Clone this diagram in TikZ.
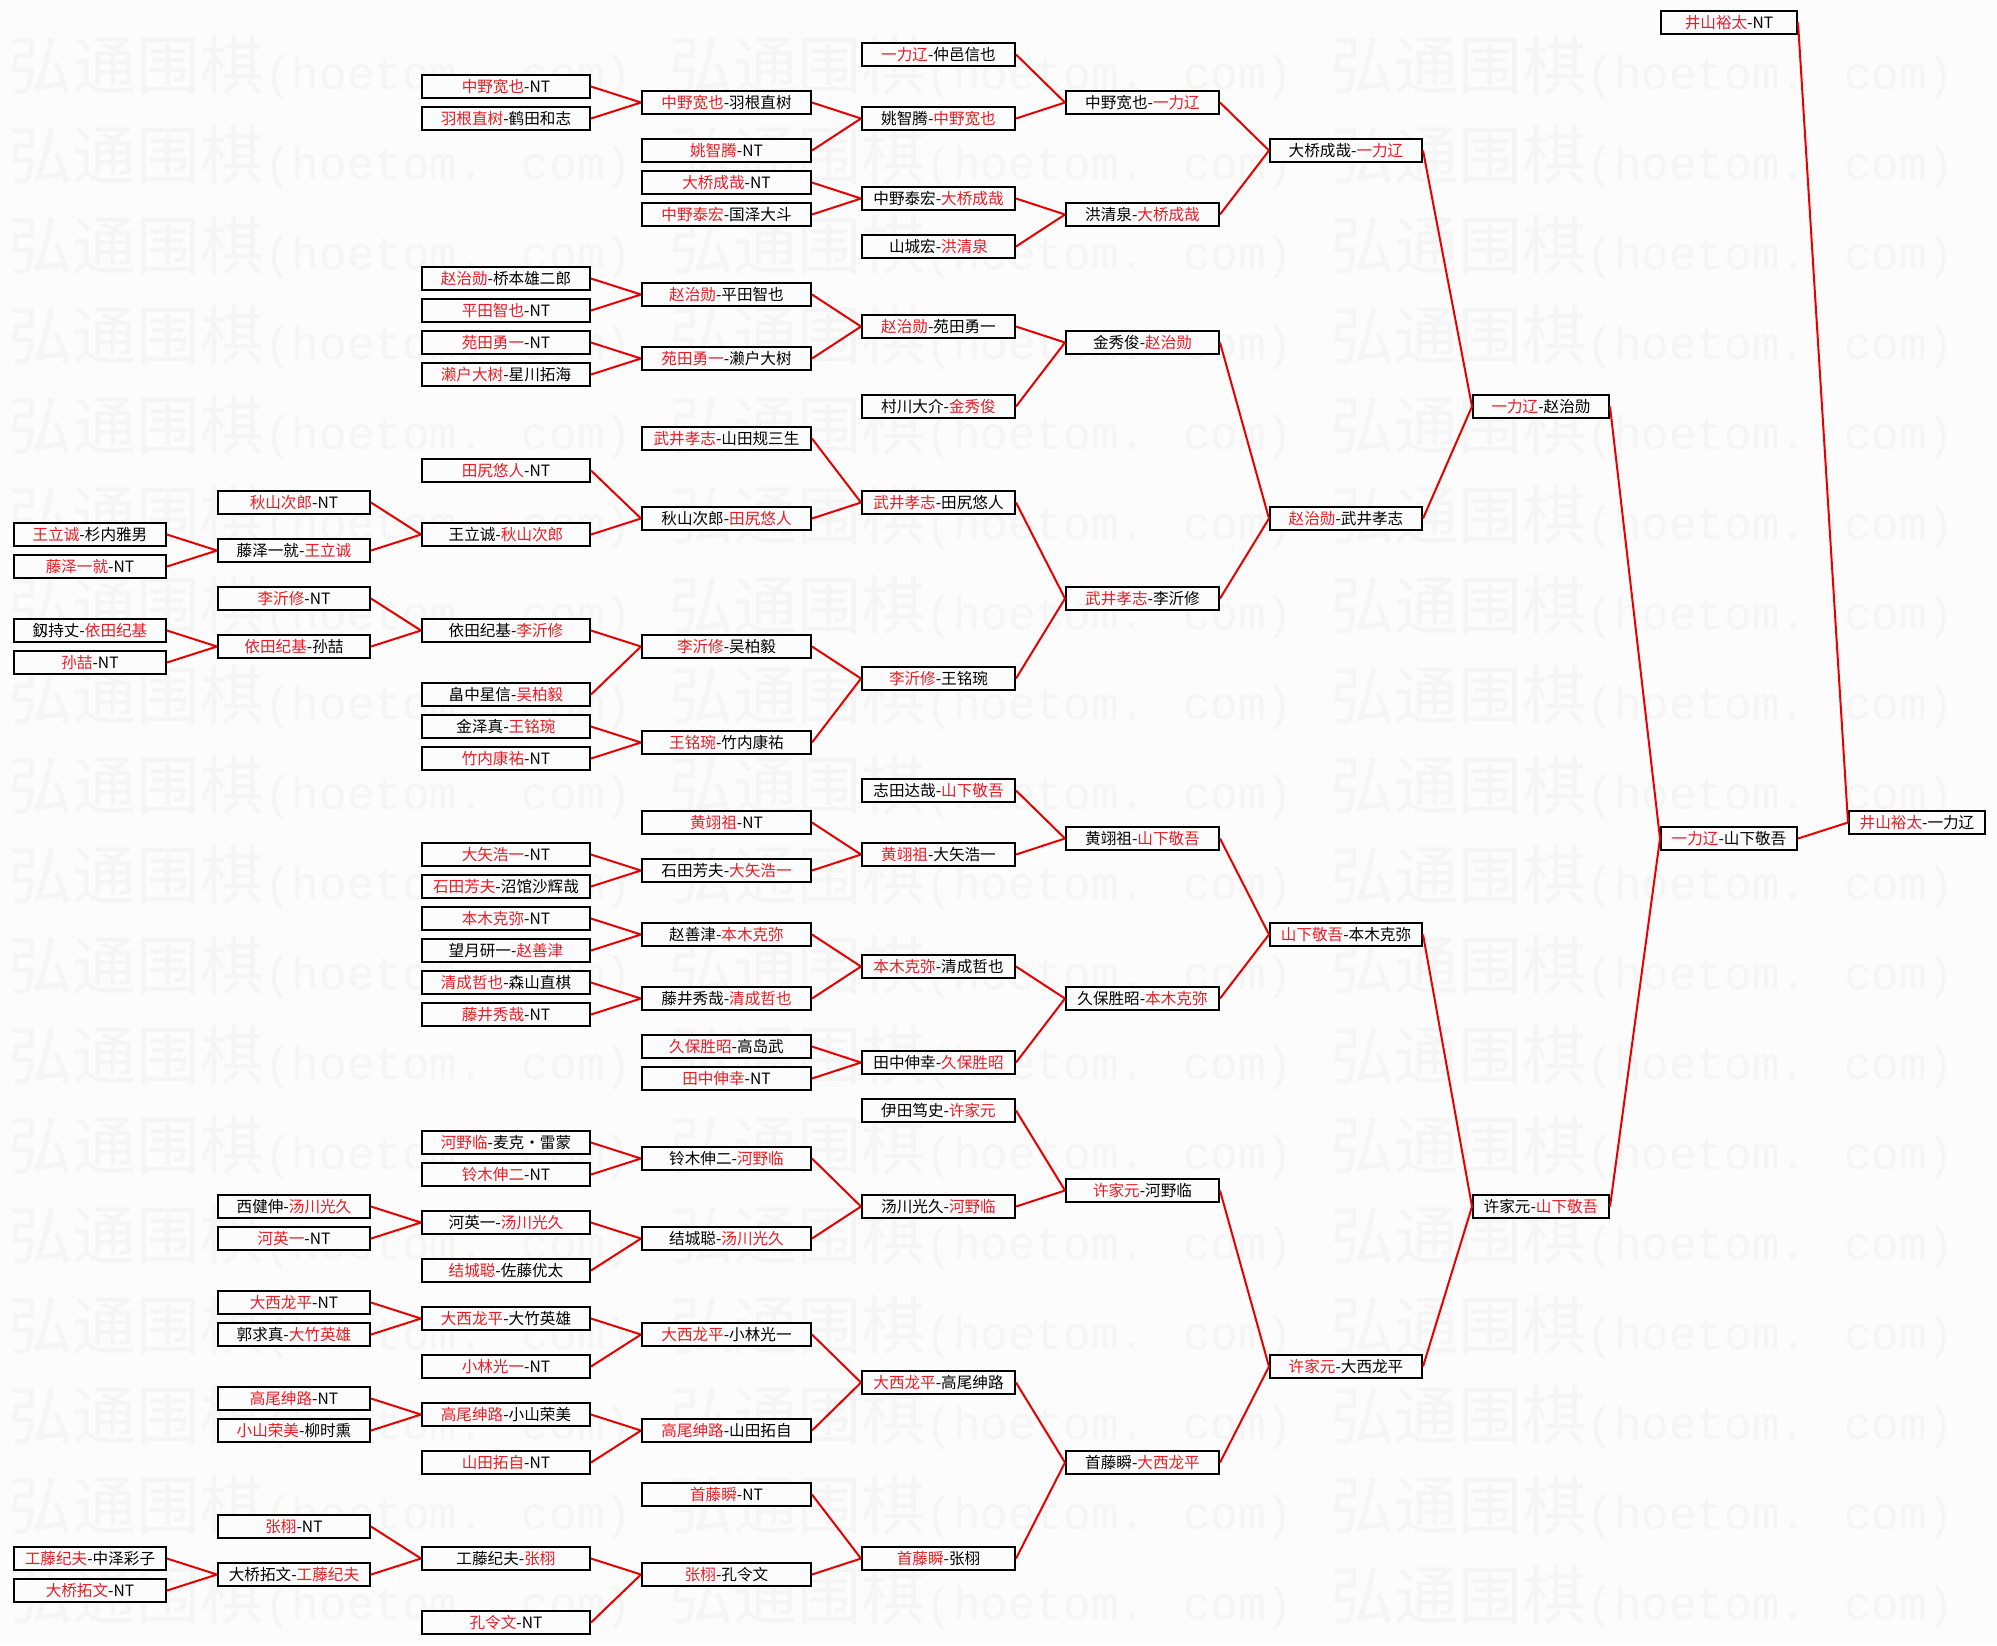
\documentclass[tikz,border=0pt]{standalone}
\usepackage{fontspec}
\setmainfont{Noto Sans CJK SC}
\newfontfamily\wmcjk{Noto Sans CJK SC}
\newfontfamily\wmmono{Liberation Mono}
\definecolor{wr}{RGB}{232,28,36}
\definecolor{lr}{RGB}{230,0,0}
\definecolor{wmc}{RGB}{245,245,245}
\definecolor{bgc}{RGB}{252,252,252}
\newcommand\R[1]{\textcolor{wr}{#1}}
\newcommand\nd[3]{%
 \ifcase#1\or\def\ndx{90}\def\ndw{76pt}\or\def\ndx{294}\def\ndw{76pt}\or\def\ndx{506}\def\ndw{84pt}\or\def\ndx{726.5}\def\ndw{84.5pt}\or\def\ndx{938.5}\def\ndw{76.5pt}\or\def\ndx{1142.5}\def\ndw{76.5pt}\or\def\ndx{1346}\def\ndw{76pt}\or\def\ndx{1541}\def\ndw{68pt}\or\def\ndx{1729}\def\ndw{68pt}\or\def\ndx{1917}\def\ndw{68pt}\fi
 \node[box,minimum width=\ndw] (n#1r#2) at (\ndx,{22.5+16*#2}) {#3};}
\newcommand\lk[3]{\draw[ln] (#2.east) -- (#1.west) (#3.east) -- (#1.west);}
\begin{document}
\begin{tikzpicture}[x=0.5pt,y=-0.5pt,
 box/.style={draw=black,line width=1pt,fill=bgc,inner sep=0pt,minimum height=11.5pt,font=\fontsize{7.8pt}{9pt}\selectfont,text=black},
 ln/.style={draw=lr,line width=1pt},
 wmk/.style={anchor=base west,inner sep=0pt,text=wmc}]
\path[use as bounding box,fill=bgc] (0,0) rectangle (1997,1645);
% watermark
\foreach \k in {0,...,17}{
  \foreach \j in {0,...,2}{
    \node[wmk] (wm\k x\j) at ({8+661*\j},{89+90*\k}) {\wmcjk\fontsize{32pt}{32pt}\selectfont 弘通围棋\wmmono\fontsize{23pt}{23pt}\selectfont (hoetom. com)};
  }
}
% column 1
\nd{1}{32}{\R{王立诚}-杉内雅男}
\nd{1}{34}{\R{藤泽一就}-NT}
\nd{1}{38}{釼持丈-\R{依田纪基}}
\nd{1}{40}{\R{孙喆}-NT}
\nd{1}{96}{\R{工藤纪夫}-中泽彩子}
\nd{1}{98}{\R{大桥拓文}-NT}
% column 2
\nd{2}{30}{\R{秋山次郎}-NT}
\nd{2}{33}{藤泽一就-\R{王立诚}}
\nd{2}{36}{\R{李沂修}-NT}
\nd{2}{39}{\R{依田纪基}-孙喆}
\nd{2}{74}{西健伸-\R{汤川光久}}
\nd{2}{76}{\R{河英一}-NT}
\nd{2}{80}{\R{大西龙平}-NT}
\nd{2}{82}{郭求真-\R{大竹英雄}}
\nd{2}{86}{\R{高尾绅路}-NT}
\nd{2}{88}{\R{小山荣美}-柳时熏}
\nd{2}{94}{\R{张栩}-NT}
\nd{2}{97}{大桥拓文-\R{工藤纪夫}}
% column 3
\nd{3}{4}{\R{中野宽也}-NT}
\nd{3}{6}{\R{羽根直树}-鹤田和志}
\nd{3}{16}{\R{赵治勋}-桥本雄二郎}
\nd{3}{18}{\R{平田智也}-NT}
\nd{3}{20}{\R{苑田勇一}-NT}
\nd{3}{22}{\R{濑户大树}-星川拓海}
\nd{3}{28}{\R{田尻悠人}-NT}
\nd{3}{32}{王立诚-\R{秋山次郎}}
\nd{3}{38}{依田纪基-\R{李沂修}}
\nd{3}{42}{畠中星信-\R{吴柏毅}}
\nd{3}{44}{金泽真-\R{王铭琬}}
\nd{3}{46}{\R{竹内康祐}-NT}
\nd{3}{52}{\R{大矢浩一}-NT}
\nd{3}{54}{\R{石田芳夫}-沼馆沙辉哉}
\nd{3}{56}{\R{本木克弥}-NT}
\nd{3}{58}{望月研一-\R{赵善津}}
\nd{3}{60}{\R{清成哲也}-森山直棋}
\nd{3}{62}{\R{藤井秀哉}-NT}
\nd{3}{70}{\R{河野临}-麦克・雷蒙}
\nd{3}{72}{\R{铃木伸二}-NT}
\nd{3}{75}{河英一-\R{汤川光久}}
\nd{3}{78}{\R{结城聪}-佐藤优太}
\nd{3}{81}{\R{大西龙平}-大竹英雄}
\nd{3}{84}{\R{小林光一}-NT}
\nd{3}{87}{\R{高尾绅路}-小山荣美}
\nd{3}{90}{\R{山田拓自}-NT}
\nd{3}{96}{工藤纪夫-\R{张栩}}
\nd{3}{100}{\R{孔令文}-NT}
% column 4
\nd{4}{5}{\R{中野宽也}-羽根直树}
\nd{4}{8}{\R{姚智腾}-NT}
\nd{4}{10}{\R{大桥成哉}-NT}
\nd{4}{12}{\R{中野泰宏}-国泽大斗}
\nd{4}{17}{\R{赵治勋}-平田智也}
\nd{4}{21}{\R{苑田勇一}-濑户大树}
\nd{4}{26}{\R{武井孝志}-山田规三生}
\nd{4}{31}{秋山次郎-\R{田尻悠人}}
\nd{4}{39}{\R{李沂修}-吴柏毅}
\nd{4}{45}{\R{王铭琬}-竹内康祐}
\nd{4}{50}{\R{黄翊祖}-NT}
\nd{4}{53}{石田芳夫-\R{大矢浩一}}
\nd{4}{57}{赵善津-\R{本木克弥}}
\nd{4}{61}{藤井秀哉-\R{清成哲也}}
\nd{4}{64}{\R{久保胜昭}-高岛武}
\nd{4}{66}{\R{田中伸幸}-NT}
\nd{4}{71}{铃木伸二-\R{河野临}}
\nd{4}{76}{结城聪-\R{汤川光久}}
\nd{4}{82}{\R{大西龙平}-小林光一}
\nd{4}{88}{\R{高尾绅路}-山田拓自}
\nd{4}{92}{\R{首藤瞬}-NT}
\nd{4}{97}{\R{张栩}-孔令文}
% column 5
\nd{5}{2}{\R{一力辽}-仲邑信也}
\nd{5}{6}{姚智腾-\R{中野宽也}}
\nd{5}{11}{中野泰宏-\R{大桥成哉}}
\nd{5}{14}{山城宏-\R{洪清泉}}
\nd{5}{19}{\R{赵治勋}-苑田勇一}
\nd{5}{24}{村川大介-\R{金秀俊}}
\nd{5}{30}{\R{武井孝志}-田尻悠人}
\nd{5}{41}{\R{李沂修}-王铭琬}
\nd{5}{48}{志田达哉-\R{山下敬吾}}
\nd{5}{52}{\R{黄翊祖}-大矢浩一}
\nd{5}{59}{\R{本木克弥}-清成哲也}
\nd{5}{65}{田中伸幸-\R{久保胜昭}}
\nd{5}{68}{伊田笃史-\R{许家元}}
\nd{5}{74}{汤川光久-\R{河野临}}
\nd{5}{85}{\R{大西龙平}-高尾绅路}
\nd{5}{96}{\R{首藤瞬}-张栩}
% column 6
\nd{6}{5}{中野宽也-\R{一力辽}}
\nd{6}{12}{洪清泉-\R{大桥成哉}}
\nd{6}{20}{金秀俊-\R{赵治勋}}
\nd{6}{36}{\R{武井孝志}-李沂修}
\nd{6}{51}{黄翊祖-\R{山下敬吾}}
\nd{6}{61}{久保胜昭-\R{本木克弥}}
\nd{6}{73}{\R{许家元}-河野临}
\nd{6}{90}{首藤瞬-\R{大西龙平}}
% column 7
\nd{7}{8}{大桥成哉-\R{一力辽}}
\nd{7}{31}{\R{赵治勋}-武井孝志}
\nd{7}{57}{\R{山下敬吾}-本木克弥}
\nd{7}{84}{\R{许家元}-大西龙平}
% column 8
\nd{8}{24}{\R{一力辽}-赵治勋}
\nd{8}{74}{许家元-\R{山下敬吾}}
% column 9
\nd{9}{0}{\R{井山裕太}-NT}
\nd{9}{51}{\R{一力辽}-山下敬吾}
% column 10
\nd{10}{50}{\R{井山裕太}-一力辽}
% connectors
\lk{n10r50}{n9r0}{n9r51}
\lk{n9r51}{n8r24}{n8r74}
\lk{n8r24}{n7r8}{n7r31}
\lk{n8r74}{n7r57}{n7r84}
\lk{n7r8}{n6r5}{n6r12}
\lk{n7r31}{n6r20}{n6r36}
\lk{n7r57}{n6r51}{n6r61}
\lk{n7r84}{n6r73}{n6r90}
\lk{n6r5}{n5r2}{n5r6}
\lk{n6r12}{n5r11}{n5r14}
\lk{n6r20}{n5r19}{n5r24}
\lk{n6r36}{n5r30}{n5r41}
\lk{n6r51}{n5r48}{n5r52}
\lk{n6r61}{n5r59}{n5r65}
\lk{n6r73}{n5r68}{n5r74}
\lk{n6r90}{n5r85}{n5r96}
\lk{n5r6}{n4r5}{n4r8}
\lk{n5r11}{n4r10}{n4r12}
\lk{n5r19}{n4r17}{n4r21}
\lk{n5r30}{n4r26}{n4r31}
\lk{n5r41}{n4r39}{n4r45}
\lk{n5r52}{n4r50}{n4r53}
\lk{n5r59}{n4r57}{n4r61}
\lk{n5r65}{n4r64}{n4r66}
\lk{n5r74}{n4r71}{n4r76}
\lk{n5r85}{n4r82}{n4r88}
\lk{n5r96}{n4r92}{n4r97}
\lk{n4r5}{n3r4}{n3r6}
\lk{n4r17}{n3r16}{n3r18}
\lk{n4r21}{n3r20}{n3r22}
\lk{n4r31}{n3r28}{n3r32}
\lk{n4r39}{n3r38}{n3r42}
\lk{n4r45}{n3r44}{n3r46}
\lk{n4r53}{n3r52}{n3r54}
\lk{n4r57}{n3r56}{n3r58}
\lk{n4r61}{n3r60}{n3r62}
\lk{n4r71}{n3r70}{n3r72}
\lk{n4r76}{n3r75}{n3r78}
\lk{n4r82}{n3r81}{n3r84}
\lk{n4r88}{n3r87}{n3r90}
\lk{n4r97}{n3r96}{n3r100}
\lk{n3r32}{n2r30}{n2r33}
\lk{n3r38}{n2r36}{n2r39}
\lk{n3r75}{n2r74}{n2r76}
\lk{n3r81}{n2r80}{n2r82}
\lk{n3r87}{n2r86}{n2r88}
\lk{n3r96}{n2r94}{n2r97}
\lk{n2r33}{n1r32}{n1r34}
\lk{n2r39}{n1r38}{n1r40}
\lk{n2r97}{n1r96}{n1r98}
\end{tikzpicture}
\end{document}
